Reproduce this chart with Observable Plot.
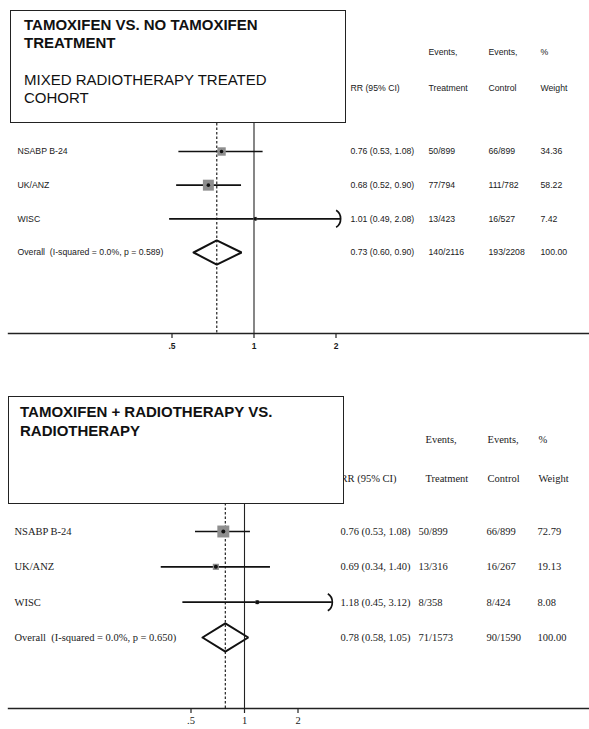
<!DOCTYPE html>
<html>
<head>
<meta charset="utf-8">
<script src="https://cdn.jsdelivr.net/npm/d3@7"></script>
<script src="https://cdn.jsdelivr.net/npm/@observablehq/plot@0.6"></script>
<style>
  html, body { margin: 0; padding: 0; background: #fff; }
  #root { position: relative; width: 589px; height: 729px; overflow: hidden; background: #fff; }
  .panel { position: absolute; left: 0; }
  .panel svg text { white-space: pre; }
  .tbox { position: absolute; border: 1.5px solid #222; background: #fff; box-sizing: border-box; color: #111; }
  .tbox div { position: absolute; left: 0; white-space: nowrap; font-size: 15px; line-height: 18px; }
</style>
</head>
<body>
<div id="root"></div>
<script>
// ---------------- DATA ----------------
const studies = ["NSABP B-24", "UK/ANZ", "WISC"];
const tickValues = [0.5, 1, 2];
const tickLabels = [".5", "1", "2"];
const headerLine1 = ["", "Events,", "Events,", "%"];
const headerLine2 = ["RR (95% CI)", "Treatment", "Control", "Weight"];

// Panel 1: Tamoxifen vs no tamoxifen, mixed radiotherapy treated cohort
const p1Title = ["TAMOXIFEN VS. NO TAMOXIFEN", "TREATMENT"];
const p1Subtitle = ["MIXED RADIOTHERAPY TREATED", "COHORT"];
const p1RR = [0.76, 0.68, 1.01];
const p1Lo = [0.53, 0.52, 0.49];
const p1Hi = [1.08, 0.90, 2.08];
const p1Treat = ["50/899", "77/794", "13/423"];
const p1Ctrl = ["66/899", "111/782", "16/527"];
const p1Weight = [34.36, 58.22, 7.42];
const p1OverallLabel = "Overall  (I-squared = 0.0%, p = 0.589)";
const p1OverallRR = [0.73, 0.60, 0.90];
const p1OverallEvents = ["140/2116", "193/2208"];
const p1OverallWeight = 100.00;

// Panel 2: Tamoxifen + radiotherapy vs radiotherapy
const p2Title = ["TAMOXIFEN + RADIOTHERAPY VS.", "RADIOTHERAPY"];
const p2Subtitle = [];
const p2RR = [0.76, 0.69, 1.18];
const p2Lo = [0.53, 0.34, 0.45];
const p2Hi = [1.08, 1.40, 3.12];
const p2Treat = ["50/899", "13/316", "8/358"];
const p2Ctrl = ["66/899", "16/267", "8/424"];
const p2Weight = [72.79, 19.13, 8.08];
const p2OverallLabel = "Overall  (I-squared = 0.0%, p = 0.650)";
const p2OverallRR = [0.78, 0.58, 1.05];
const p2OverallEvents = ["71/1573", "90/1590"];
const p2OverallWeight = 100.00;

// ---------------- LAYOUT ----------------
const root = document.getElementById("root");

// ")" arrow head for truncated confidence intervals
const bracket = {
  draw(ctx) {
    ctx.moveTo(-4.5, -8.5);
    ctx.bezierCurveTo(1.5, -5, 1.5, 5, -4.5, 8.5);
  }
};

function buildPanel(cfg) {
  const rows = studies.map((s, i) => ({
    label: s, rr: cfg.rr[i], lo: cfg.lo[i], hi: cfg.hi[i],
    treat: cfg.treat[i], ctrl: cfg.ctrl[i], weight: cfg.weight[i], row: i
  }));
  const ov = {
    label: cfg.ovLabel, rr: cfg.ovRR[0], lo: cfg.ovRR[1], hi: cfg.ovRR[2],
    treat: cfg.ovEvents[0], ctrl: cfg.ovEvents[1], weight: cfg.ovWeight, row: studies.length
  };
  const all = [...rows, ov];
  const fmt = d3.format(".2f");
  const rrText = d => `${fmt(d.rr)} (${fmt(d.lo)}, ${fmt(d.hi)})`;
  const maxTick = d3.max(tickValues);
  const dh = cfg.diamondHalf;
  const diamond = [
    {x: ov.lo, y: ov.row}, {x: ov.rr, y: ov.row - dh},
    {x: ov.hi, y: ov.row}, {x: ov.rr, y: ov.row + dh}, {x: ov.lo, y: ov.row}
  ];
  const ml = 8;
  const colTexts = [rrText, d => d.treat, d => d.ctrl, d => fmt(d.weight)];

  const marks = [
    Plot.frame({anchor: "bottom", stroke: "#222", strokeWidth: 1.4}),
    Plot.axisX({
      ticks: tickValues,
      tickFormat: (d, i) => tickLabels[tickValues.indexOf(d)],
      tickSize: 5, tickPadding: cfg.tickPad, fontSize: cfg.tickFs, fontWeight: cfg.tickWeight,
      stroke: "#222", strokeWidth: 1.2, label: null
    }),
    Plot.ruleX([1], {stroke: "#222", strokeWidth: 1.1}),
    Plot.ruleX([ov.rr], {stroke: "#222", strokeWidth: 1.2, strokeDasharray: "2.5,2"}),
    Plot.ruleY(rows, {y: "row", x1: "lo", x2: "hi", stroke: "#111", strokeWidth: 1.7}),
    Plot.dot(rows, {x: "rr", y: "row", r: "weight", symbol: "square", fill: "#8e8e8e", stroke: null}),
    Plot.dot(rows, {x: "rr", y: "row", r: cfg.dotR, fill: "#111", stroke: null}),
    Plot.dot(rows.filter(d => d.hi > maxTick), {x: "hi", y: "row", symbol: bracket, r: 5, fill: "none", stroke: "#111", strokeWidth: 1.7}),
    Plot.line(diamond, {x: "x", y: "y", stroke: "#111", strokeWidth: 2, strokeLinejoin: "miter", fill: "none"}),
    Plot.text(all, {y: "row", text: "label", frameAnchor: "left", dx: cfg.labelX - ml, textAnchor: "start", fill: "#1a1a1a"})
  ];
  cfg.colX.forEach((cx, j) => {
    marks.push(Plot.text(all, {y: "row", text: colTexts[j], frameAnchor: "left", dx: cx - ml, textAnchor: "start", fill: "#1a1a1a"}));
  });
  cfg.hdrX.forEach((hx, j) => {
    if (headerLine1[j]) marks.push(Plot.text([headerLine1[j]], {frameAnchor: "top-left", dx: hx - ml, dy: cfg.hdrY[0] - cfg.top, textAnchor: "start", fill: "#1a1a1a"}));
    marks.push(Plot.text([headerLine2[j]], {frameAnchor: "top-left", dx: hx - ml, dy: cfg.hdrY[1] - cfg.top, textAnchor: "start", fill: "#1a1a1a"}));
  });

  const chart = Plot.plot({
    width: 589,
    height: cfg.height,
    marginTop: cfg.top,
    marginBottom: cfg.height - cfg.axisY,
    marginLeft: ml,
    marginRight: 0,
    style: {fontFamily: cfg.font, fontSize: cfg.fs + "px", background: "transparent", color: "#1a1a1a", overflow: "visible"},
    x: {type: "log", domain: [0.5, 2], range: cfg.xRange},
    y: {type: "linear", domain: [0, studies.length], range: cfg.yRange, axis: null},
    r: {type: "sqrt", domain: [0, 100], range: [0, cfg.rMax]},
    marks
  });
  const wrap = document.createElement("div");
  wrap.className = "panel";
  wrap.style.top = cfg.offset + "px";
  wrap.appendChild(chart);
  root.appendChild(wrap);

  // title box
  const box = document.createElement("div");
  box.className = "tbox";
  Object.assign(box.style, {left: cfg.box[0] + "px", top: cfg.box[1] + "px", width: cfg.box[2] + "px", height: cfg.box[3] + "px", fontFamily: "'Liberation Sans', Arial, sans-serif"});
  cfg.title.forEach((t, i) => {
    const d = document.createElement("div");
    d.textContent = t;
    d.style.fontWeight = "bold";
    d.style.left = cfg.titleX + "px";
    d.style.top = (cfg.titleY[i] - cfg.box[1] - 10) + "px";
    box.appendChild(d);
  });
  cfg.subtitle.forEach((t, i) => {
    const d = document.createElement("div");
    d.textContent = t;
    d.style.left = cfg.titleX + "px";
    d.style.top = (cfg.subY[i] - cfg.box[1] - 10) + "px";
    box.appendChild(d);
  });
  root.appendChild(box);
}

buildPanel({
  offset: 0, height: 365, top: 123, axisY: 333,
  xRange: [171.5, 335.5], yRange: [151, 252],
  rr: p1RR, lo: p1Lo, hi: p1Hi, treat: p1Treat, ctrl: p1Ctrl, weight: p1Weight,
  ovLabel: p1OverallLabel, ovRR: p1OverallRR, ovEvents: p1OverallEvents, ovWeight: p1OverallWeight,
  font: "'Liberation Sans', Arial, sans-serif", fs: 8.7, tickFs: 8.5, tickWeight: "bold", tickPad: 4,
  rMax: 8.1, dotR: 1.8, diamondHalf: 0.36,
  labelX: 17, colX: [350, 428, 488, 540], hdrX: [350, 428, 488, 540], hdrY: [48, 84],
  box: [10, 10, 336, 113], title: p1Title, subtitle: p1Subtitle,
  titleX: 13, titleY: [25, 43], subY: [80, 98]
});

buildPanel({
  offset: 365, height: 364, top: 138, axisY: 343,
  xRange: [190.5, 297.5], yRange: [166, 272],
  rr: p2RR, lo: p2Lo, hi: p2Hi, treat: p2Treat, ctrl: p2Ctrl, weight: p2Weight,
  ovLabel: p2OverallLabel, ovRR: p2OverallRR, ovEvents: p2OverallEvents, ovWeight: p2OverallWeight,
  font: "'Liberation Serif', 'Times New Roman', serif", fs: 10.5, tickFs: 10.5, tickWeight: "normal", tickPad: 3,
  rMax: 7.9, dotR: 2, diamondHalf: 0.4,
  labelX: 14, colX: [340, 418, 486, 537], hdrX: [340, 425, 487, 538], hdrY: [435, 474].map(v => v - 365),
  box: [8, 396, 336, 108], title: p2Title, subtitle: p2Subtitle,
  titleX: 11, titleY: [412, 431], subY: []
});
</script>
</body>
</html>
